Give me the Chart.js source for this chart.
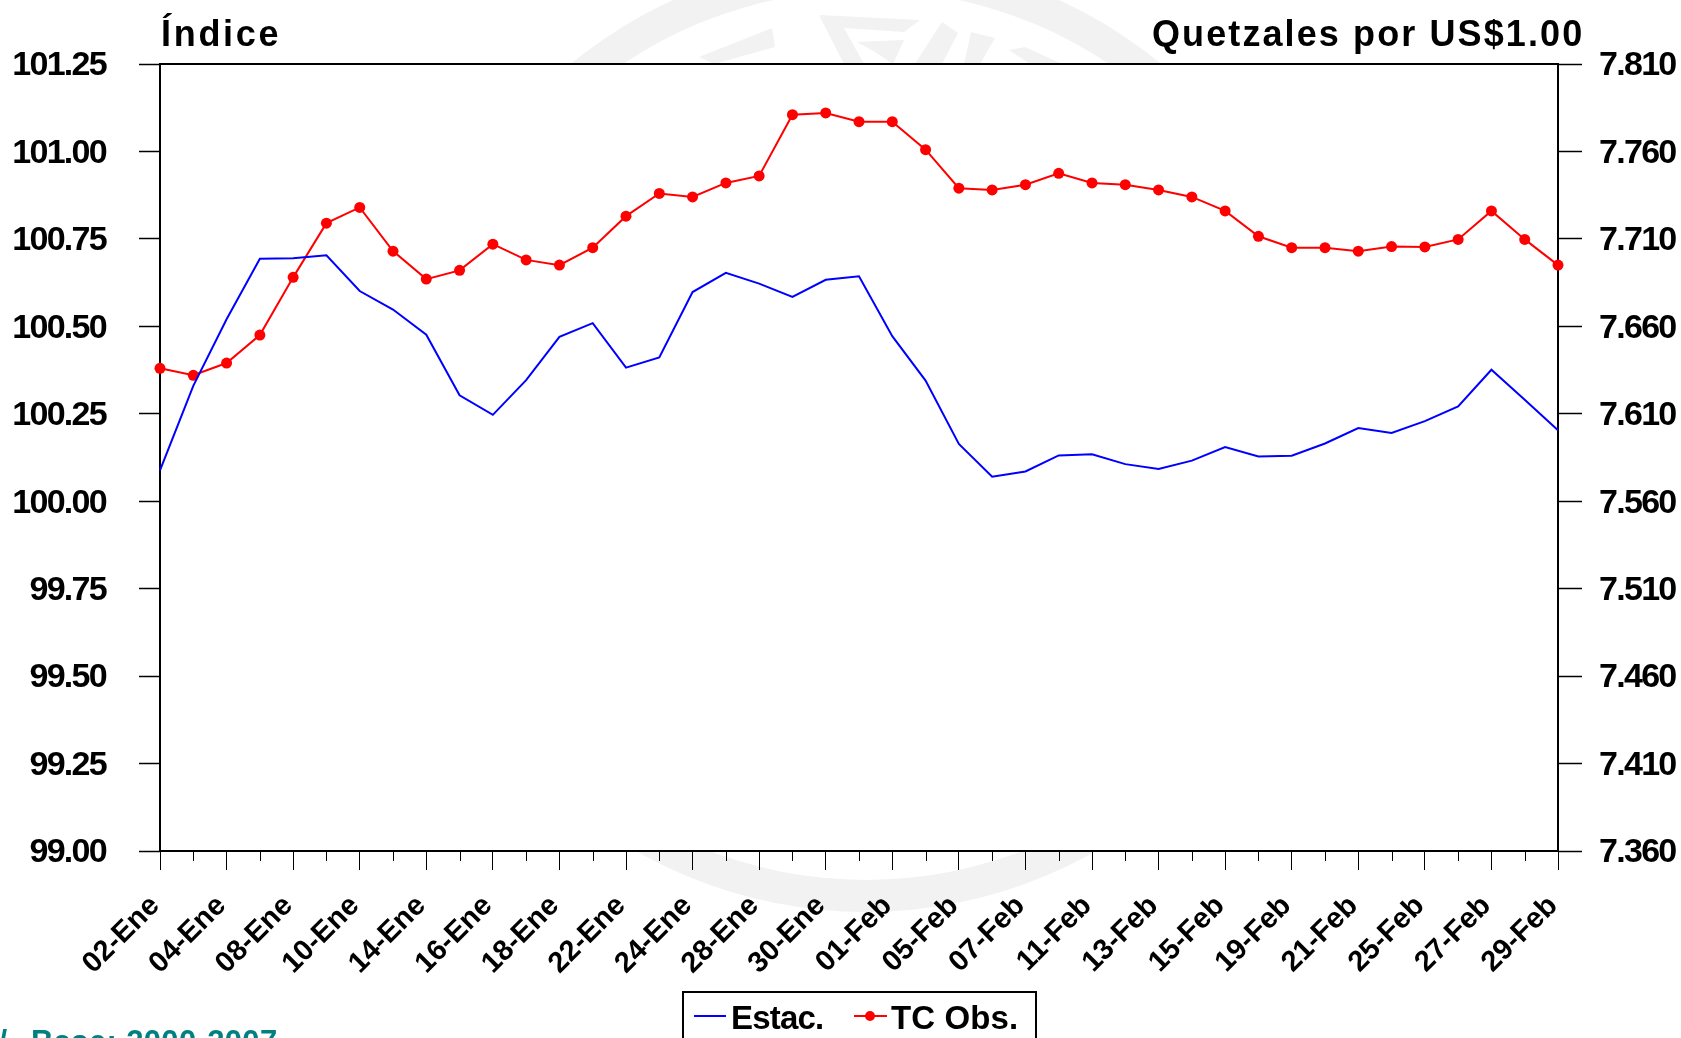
<!DOCTYPE html>
<html>
<head>
<meta charset="utf-8">
<title>Estac. y TC Obs.</title>
<script src="https://cdn.jsdelivr.net/npm/chart.js@4"></script>
<style>
  html, body { margin: 0; padding: 0; background: #fff; overflow: hidden; }
  canvas { display: block; }
</style>
</head>
<body>
<canvas id="myChart" width="1681" height="1038"></canvas>
<script>
const categories = [
  '02-Ene','03-Ene','04-Ene','07-Ene','08-Ene','09-Ene','10-Ene','11-Ene','14-Ene','15-Ene','16-Ene',
  '17-Ene','18-Ene','21-Ene','22-Ene','23-Ene','24-Ene','25-Ene','28-Ene','29-Ene','30-Ene','31-Ene',
  '01-Feb','04-Feb','05-Feb','06-Feb','07-Feb','08-Feb','11-Feb','12-Feb','13-Feb','14-Feb','15-Feb',
  '18-Feb','19-Feb','20-Feb','21-Feb','22-Feb','25-Feb','26-Feb','27-Feb','28-Feb','29-Feb'
];
const estac = [
  100.088,100.33,100.52,100.693,100.695,100.703,100.601,100.548,100.476,100.303,100.247,
  100.346,100.470,100.509,100.382,100.411,100.598,100.653,100.622,100.584,100.633,100.643,
  100.472,100.345,100.164,100.070,100.085,100.131,100.134,100.106,100.092,100.116,100.155,
  100.128,100.130,100.165,100.209,100.195,100.229,100.271,100.376,100.290,100.203
];
const tcObs = [
  7.636,7.632,7.639,7.655,7.688,7.719,7.728,7.703,7.687,7.692,7.707,
  7.698,7.695,7.705,7.723,7.736,7.734,7.742,7.746,7.781,7.782,7.777,
  7.777,7.761,7.739,7.738,7.741,7.7475,7.742,7.741,7.738,7.734,7.726,
  7.7115,7.705,7.705,7.703,7.7056,7.7054,7.7097,7.726,7.7097,7.695
];
const leftTicks = [99.00,99.25,99.50,99.75,100.00,100.25,100.50,100.75,101.00,101.25];
const rightTicks = [7.360,7.410,7.460,7.510,7.560,7.610,7.660,7.710,7.760,7.810];

const FONT = '"Liberation Sans", Arial, sans-serif';

// pale seal behind the chart, only shows outside the white plot area
const watermark = {
  id: 'watermark',
  afterLayout(chart) {
    // date labels keep normal spacing, the value labels are tight
    const x = chart.scales.x, c = chart.ctx, drawLabels = x.drawLabels;
    x.drawLabels = function (area) {
      const old = c.letterSpacing;
      c.letterSpacing = '0px';
      drawLabels.call(x, area);
      c.letterSpacing = old;
    };
  },
  beforeDraw(chart) {
    const c = chart.ctx, a = chart.chartArea;
    c.save();
    c.fillStyle = '#fff';
    c.fillRect(0, 0, chart.width, chart.height);
    c.fillStyle = '#f2f2f2';
    c.beginPath();
    c.ellipse(866, 435, 470, 477, 0, 0, Math.PI * 2);
    c.ellipse(866, 435, 440, 445, 0, 0, Math.PI * 2);
    c.fill('evenodd');
    const shapes = [
      [[699,57],[772,28],[775,47],[714,64]],
      [[819,15],[920,20],[904,32],[844,28]],
      [[819,15],[844,64],[864,64],[844,28]],
      [[857,42],[904,40],[893,64],[875,52]],
      [[915,64],[942,22],[958,33],[942,64]],
      [[964,64],[971,32],[995,38],[980,64]],
      [[1009,50],[1025,47],[1062,64],[1030,64]]
    ];
    shapes.forEach(s => {
      c.beginPath();
      s.forEach((p, i) => i ? c.lineTo(p[0], p[1]) : c.moveTo(p[0], p[1]));
      c.fill();
    });
    c.fillStyle = '#fff';
    c.fillRect(a.left, a.top, a.right - a.left, a.bottom - a.top);
    c.restore();
    c.letterSpacing = '-1.7px';
  }
};

const frame = {
  id: 'frame',
  beforeDatasetsDraw(chart) {
    const c = chart.ctx, a = chart.chartArea, x = chart.scales.x;
    c.save();
    c.strokeStyle = '#000';
    c.lineWidth = 2;
    c.strokeRect(a.left, a.top, a.right - a.left, a.bottom - a.top);
    // short ticks between the labelled ones
    c.lineWidth = 1;
    categories.forEach((cat, i) => {
      if (i % 2 == 0) return;
      const px = Math.round(x.getPixelForTick(i)) + 0.5;
      c.beginPath();
      c.moveTo(px, a.bottom);
      c.lineTo(px, a.bottom + 10);
      c.stroke();
    });
    c.restore();
  }
};

const texts = {
  id: 'texts',
  afterDraw(chart) {
    const c = chart.ctx;
    c.save();
    c.textBaseline = 'alphabetic';
    c.textAlign = 'left';
    c.fillStyle = '#000';
    c.font = 'bold 36px ' + FONT;
    c.letterSpacing = '2.7px';
    c.fillText('Índice', 161, 46);
    c.letterSpacing = '2.1px';
    c.fillText('Quetzales por US$1.00', 1152, 46);

    // footnote, cut by the page edge
    c.fillStyle = '#008080';
    c.font = 'bold 31px ' + FONT;
    c.letterSpacing = '0.35px';
    c.fillText('1/', -19, 1052);
    c.fillText('Base: 2000-2007', 31, 1052);

    // legend box, also cut by the bottom edge
    c.fillStyle = '#fff';
    c.fillRect(683, 992, 353, 60);
    c.strokeStyle = '#000';
    c.lineWidth = 2;
    c.strokeRect(683, 992, 353, 60);
    const ds = chart.data.datasets;
    c.strokeStyle = ds[0].borderColor;
    c.lineWidth = 2;
    c.beginPath(); c.moveTo(694, 1016); c.lineTo(726, 1016); c.stroke();
    c.strokeStyle = ds[1].borderColor;
    c.beginPath(); c.moveTo(854, 1016); c.lineTo(887, 1016); c.stroke();
    c.fillStyle = ds[1].pointBackgroundColor;
    c.beginPath(); c.arc(870, 1016, 5, 0, Math.PI * 2); c.fill();
    c.fillStyle = '#000';
    c.font = 'bold 33px ' + FONT;
    c.letterSpacing = '-0.8px';
    c.fillText(ds[0].label, 731, 1029);
    c.letterSpacing = '0.1px';
    c.fillText(ds[1].label, 891, 1029);
    c.restore();
  }
};

const ctx = document.getElementById('myChart').getContext('2d');
const myChart = new Chart(ctx, {
  type: 'line',
  data: {
    labels: categories,
    datasets: [{
      label: 'Estac.',
      data: estac,
      yAxisID: 'y',
      borderColor: '#0000ff',
      borderWidth: 2,
      pointRadius: 0,
      tension: 0,
      clip: false
    }, {
      label: 'TC Obs.',
      data: tcObs,
      yAxisID: 'y2',
      borderColor: '#ff0000',
      borderWidth: 2,
      pointRadius: 5.5,
      pointBackgroundColor: '#ff0000',
      pointBorderColor: '#ff0000',
      pointBorderWidth: 0,
      tension: 0,
      clip: false
    }]
  },
  options: {
    responsive: false,
    animation: false,
    layout: { padding: { top: 64, left: 0, right: 0, bottom: 0 } },
    plugins: { legend: { display: false }, tooltip: { enabled: false } },
    scales: {
      x: {
        border: { display: false },
        grid: {
          drawOnChartArea: false,
          tickLength: 19,
          tickWidth: 1,
          tickColor: c => c.index % 2 ? 'rgba(0,0,0,0)' : '#000'
        },
        ticks: {
          autoSkip: false,
          minRotation: 45,
          maxRotation: 45,
          padding: 19,
          labelOffset: -5,
          color: '#000',
          font: { family: FONT, size: 29, weight: 'bold' },
          callback: function (v, i) { return i % 2 ? '' : categories[i]; }
        },
        afterFit: s => { s.height = 187; }
      },
      y: {
        position: 'left',
        min: 99,
        max: 101.25,
        border: { display: false },
        grid: { drawOnChartArea: false, tickLength: 21, tickColor: '#000', tickWidth: 1.5 },
        ticks: {
          padding: 33,
          labelOffset: 2,
          color: '#000',
          font: { family: FONT, size: 34, weight: 'bold' },
          callback: v => v.toFixed(2)
        },
        afterBuildTicks: s => { s.ticks = leftTicks.map(v => ({ value: v })); },
        afterFit: s => { s.width = 160; }
      },
      y2: {
        position: 'right',
        min: 7.36,
        max: 7.81,
        border: { display: false },
        grid: { drawOnChartArea: false, tickLength: 24, tickColor: '#000', tickWidth: 1.5 },
        ticks: {
          padding: 17,
          labelOffset: 2,
          color: '#000',
          font: { family: FONT, size: 34, weight: 'bold' },
          callback: v => v.toFixed(3)
        },
        afterBuildTicks: s => { s.ticks = rightTicks.map(v => ({ value: v })); },
        afterFit: s => { s.width = 123; }
      }
    }
  },
  plugins: [watermark, frame, texts]
});
</script>
</body>
</html>
